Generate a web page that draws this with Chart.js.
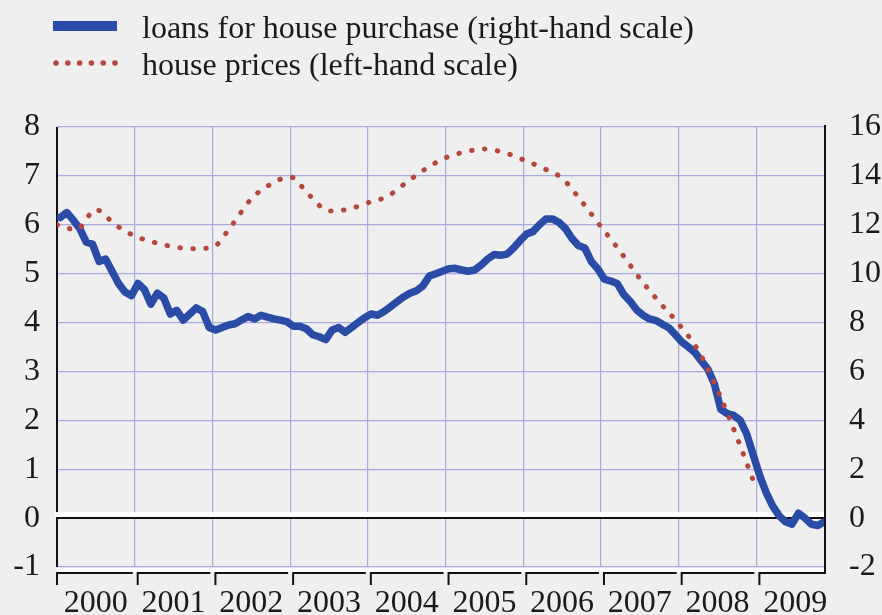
<!DOCTYPE html>
<html lang="en">
<head>
    <meta charset="UTF-8">
    <title>Loans for house purchase and house prices</title>
    <script src="https://cdn.jsdelivr.net/npm/chart.js"></script>
    <style>
        body { margin: 0; background: #efefef; }
        canvas { display: block; }
    </style>
</head>
<body>

<canvas id="loansChart" width="882" height="615"></canvas>

<script>
    // year labels on the x axis
    const years = ['2000', '2001', '2002', '2003', '2004', '2005', '2006', '2007', '2008', '2009'];

    // loans for house purchase, monthly from Jan 2000 (right-hand scale)
    const loans = [
        12.3, 12.5, 12.2, 11.85, 11.3, 11.2, 10.5, 10.6, 10.1, 9.6, 9.25, 9.1,
        9.6, 9.35, 8.75, 9.2, 9.0, 8.35, 8.5, 8.1, 8.35, 8.6, 8.45, 7.8,
        7.7, 7.8, 7.9, 7.95, 8.1, 8.25, 8.15, 8.3, 8.22, 8.15, 8.1, 8.04,
        7.85, 7.85, 7.75, 7.5, 7.42, 7.3, 7.7, 7.8, 7.6, 7.8, 8.0, 8.2,
        8.35, 8.3, 8.45, 8.65, 8.85, 9.05, 9.2, 9.3, 9.5, 9.9, 10.0, 10.1,
        10.2, 10.22, 10.15, 10.1, 10.15, 10.35, 10.6, 10.78, 10.75, 10.8, 11.05, 11.35,
        11.62, 11.72, 12.0, 12.24, 12.24, 12.1, 11.85, 11.45, 11.15, 11.05, 10.5, 10.2,
        9.78, 9.7, 9.6, 9.15, 8.87, 8.52, 8.3, 8.15, 8.08, 7.93, 7.78, 7.5,
        7.2, 7.0, 6.78, 6.43, 6.1, 5.5, 4.45, 4.28, 4.2, 4.0, 3.45, 2.6,
        1.75, 1.05, 0.5, 0.1, -0.15, -0.25, 0.2, 0.0, -0.25, -0.3, -0.15
    ];

    // house prices, quarterly from Q1 2000 (left-hand scale)
    const housePrices = [
        6.0, 5.9, 6.31, 6.0, 5.77, 5.64, 5.55, 5.51, 5.54, 5.99, 6.53, 6.83,
        6.98, 6.6, 6.28, 6.32, 6.45, 6.58, 6.87, 7.15, 7.37, 7.49, 7.55, 7.48,
        7.33, 7.16, 6.95, 6.48, 5.96, 5.45, 4.9, 4.42, 3.97, 3.43, 2.62, 1.65, 0.6
    ];

    const leftTicks = [-1, 0, 1, 2, 3, 4, 5, 6, 7, 8];
    const rightTicks = [-2, 0, 2, 4, 6, 8, 10, 12, 14, 16];

    const firstYear = Number(years[0]);
    const serif = '"Liberation Serif", "Times New Roman", serif';
    const gridColor = '#aaaae2';
    const blue = '#2a4ba6';
    const red = '#b5473c';

    // axis lines, zero line, white strips and the bracket ticks under the years
    const frame = {
        id: 'frame',
        beforeDatasetsDraw(chart) {
            const ctx = chart.ctx;
            const { left, right, top, bottom } = chart.chartArea;
            const xs = chart.scales.x;
            const y0 = chart.scales.yL.getPixelForValue(0);
            ctx.save();
            ctx.strokeStyle = '#111';
            ctx.lineWidth = 2;
            ctx.beginPath();
            ctx.moveTo(left, top);
            ctx.lineTo(left, bottom);
            ctx.moveTo(right + 1, top - 2);
            ctx.lineTo(right + 1, bottom + 7);
            ctx.stroke();

            ctx.fillStyle = '#ffffff';
            ctx.fillRect(left - 2, y0 - 6, right - left + 2, 5);
            ctx.fillRect(left, bottom + 1, right - left, 5);

            ctx.beginPath();
            ctx.moveTo(left, y0);
            ctx.lineTo(right, y0);
            const yb = bottom + 6;
            years.forEach((y, k) => {
                const xa = xs.getPixelForValue(firstYear + k) + (k ? 3 : 0);
                const xb = k < years.length - 1 ? xs.getPixelForValue(firstYear + k + 1) - 2 : right + 2;
                ctx.moveTo(xa, yb + 12);
                ctx.lineTo(xa, yb);
                ctx.lineTo(xb, yb);
            });
            ctx.stroke();
            ctx.restore();
        },
        afterDraw(chart) {
            const ctx = chart.ctx;
            const ds = chart.data.datasets;
            ctx.save();
            // loans sample
            ctx.fillStyle = ds[0].borderColor;
            ctx.fillRect(53, 21, 64, 10);
            // house prices sample
            ctx.fillStyle = ds[1].borderColor;
            for (let k = 0; k < 6; k++) {
                ctx.beginPath();
                ctx.arc(56 + k * 11.8, 63, 2.8, 0, Math.PI * 2);
                ctx.fill();
            }
            ctx.fillStyle = '#1a1a1a';
            ctx.font = '32px ' + serif;
            ctx.textBaseline = 'alphabetic';
            ctx.fillText(ds[0].label, 142, 38);
            ctx.fillText(ds[1].label, 142, 75);
            ctx.restore();
        }
    };

    const ctx = document.getElementById('loansChart').getContext('2d');

    new Chart(ctx, {
        type: 'line',
        data: {
            datasets: [{
                label: 'loans for house purchase (right-hand scale)',
                data: loans.map((v, i) => ({ x: firstYear + (i + 0.5) / 12, y: v })),
                yAxisID: 'yR',
                borderColor: blue,
                borderWidth: 7.5,
                borderJoinStyle: 'round',
                borderCapStyle: 'round',
                pointRadius: 0,
                tension: 0,
                order: 1
            }, {
                label: 'house prices (left-hand scale)',
                data: housePrices.map((v, i) => ({ x: firstYear + i / 4, y: v })),
                yAxisID: 'yL',
                borderColor: red,
                borderWidth: 5,
                borderDash: [0.5, 12.5],
                borderCapStyle: 'round',
                cubicInterpolationMode: 'monotone',
                pointRadius: 0,
                order: 0
            }]
        },
        options: {
            responsive: false,
            animation: false,
            layout: { padding: { top: 127, left: 0, right: 0, bottom: 0 } },
            plugins: {
                legend: { display: false },
                tooltip: { enabled: false }
            },
            scales: {
                x: {
                    type: 'linear',
                    min: firstYear,
                    max: 2009.87,
                    afterBuildTicks(scale) {
                        const t = [];
                        years.forEach((y, k) => {
                            t.push({ value: firstYear + k });
                            t.push({ value: firstYear + k + 0.5 });
                        });
                        scale.ticks = t;
                    },
                    afterFit(scale) { scale.height = 48; },
                    ticks: {
                        autoSkip: false,
                        maxRotation: 0,
                        padding: 17,
                        color: '#1a1a1a',
                        font: { family: serif, size: 32 },
                        callback: v => Number.isInteger(v) ? '' : years[Math.floor(v) - firstYear]
                    },
                    grid: {
                        drawTicks: false,
                        lineWidth: 1.2,
                        color: c => (c.tick && Number.isInteger(c.tick.value) && c.tick.value > firstYear) ? gridColor : 'rgba(0,0,0,0)'
                    },
                    border: { display: false }
                },
                yL: {
                    position: 'left',
                    min: -1,
                    max: 8,
                    afterBuildTicks(scale) { scale.ticks = leftTicks.map(v => ({ value: v })); },
                    afterFit(scale) { scale.width = 57; },
                    ticks: {
                        padding: 17,
                        color: '#1a1a1a',
                        font: { family: serif, size: 32 }
                    },
                    grid: {
                        drawTicks: false,
                        lineWidth: 1.2,
                        color: c => (c.tick && c.tick.value === 0) ? 'rgba(0,0,0,0)' : gridColor
                    },
                    border: { display: false }
                },
                yR: {
                    position: 'right',
                    min: -2,
                    max: 16,
                    afterBuildTicks(scale) { scale.ticks = rightTicks.map(v => ({ value: v })); },
                    afterFit(scale) { scale.width = 58; },
                    ticks: {
                        padding: 25,
                        color: '#1a1a1a',
                        font: { family: serif, size: 32 }
                    },
                    grid: { display: false, drawTicks: false },
                    border: { display: false }
                }
            }
        },
        plugins: [frame]
    });
</script>

</body>
</html>
